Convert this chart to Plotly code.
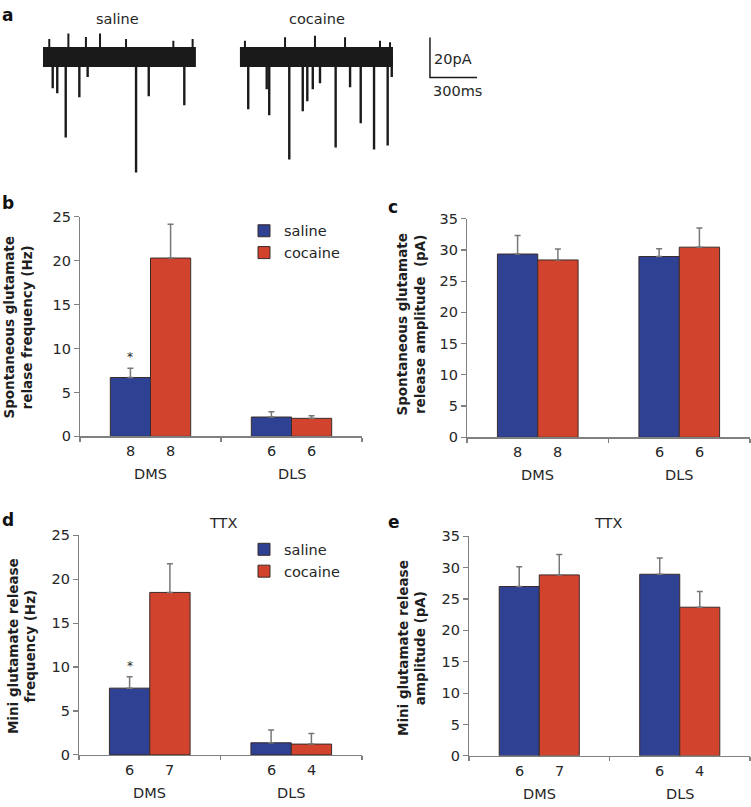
import plotly.graph_objects as go

# ---------------- data ----------------
# panel a: example traces (time in ms, current in pA relative to baseline)
saline_span_ms = [0, 976]
saline_event_ms = [62, 91, 145, 232, 285, 594, 675, 902]
saline_event_pA = [15.5, 18, 40, 20, 10, 57.5, 19.5, 24]
saline_noise_ms = [40, 162, 274, 364, 530, 832, 955]
saline_noise_pA = [8.9, 11.7, 10, 11.7, 8.9, 8.1, 8.9]

cocaine_span_ms = [1257, 2234]
cocaine_event_ms = [1310, 1428, 1444, 1572, 1658, 1687, 1722, 1768, 1868, 1960, 2028, 2113, 2200, 2226]
cocaine_event_pA = [26, 16, 29, 51, 27, 22, 16, 13, 45, 15, 33, 46, 44, 10]
cocaine_noise_ms = [1289, 1545, 1736, 1928, 2151, 2215]
cocaine_noise_pA = [8.1, 9.8, 10.6, 9.8, 8.1, 7.3]

scalebar_ms = 300
scalebar_pA = 20

regions = ["DMS", "DLS"]
groups = ["saline", "cocaine"]

# panel b: spontaneous frequency (Hz)
b_saline = [6.7, 2.2]
b_saline_err = [1.05, 0.6]
b_cocaine = [20.3, 2.05]
b_cocaine_err = [3.85, 0.3]
b_n_saline = [8, 6]
b_n_cocaine = [8, 6]

# panel c: spontaneous amplitude (pA)
c_saline = [29.35, 28.95]
c_saline_err = [2.95, 1.25]
c_cocaine = [28.4, 30.45]
c_cocaine_err = [1.75, 3.05]
c_n_saline = [8, 6]
c_n_cocaine = [8, 6]

# panel d: mini frequency (Hz), TTX
d_saline = [7.6, 1.38]
d_saline_err = [1.3, 1.46]
d_cocaine = [18.5, 1.23]
d_cocaine_err = [3.25, 1.2]
d_n_saline = [6, 6]
d_n_cocaine = [7, 4]

# panel e: mini amplitude (pA), TTX
e_saline = [27.0, 28.95]
e_saline_err = [3.15, 2.6]
e_cocaine = [28.85, 23.7]
e_cocaine_err = [3.25, 2.5]
e_n_saline = [6, 6]
e_n_cocaine = [7, 4]

# ---------------- style ----------------
W, H = 751, 807
FONT = "DejaVu Sans"
BLUE = "#2E4192"
RED = "#D2432D"
EDGE = "#3a2c2c"
AXC = "#808080"
TXT = "#262626"
TRACE = "#1a1a1a"
TICK_SIZE = 14.5
BARGAP = 0.43


def px(x):
    return x / W


def py(y):
    return 1 - y / H


fig = go.Figure()
annotations = []

# ---------------- panel a ----------------
def spikes(ts, amps, sign):
    xs, ys = [], []
    for t, a in zip(ts, amps):
        xs += [t, t, None]
        ys += [0, sign * a, None]
    return xs, ys


for span, ev_t, ev_a, nz_t, nz_a in [
    (saline_span_ms, saline_event_ms, saline_event_pA, saline_noise_ms, saline_noise_pA),
    (cocaine_span_ms, cocaine_event_ms, cocaine_event_pA, cocaine_noise_ms, cocaine_noise_pA),
]:
    fig.add_trace(go.Scatter(x=span, y=[0, 0], mode="lines", xaxis="x", yaxis="y",
                             line=dict(color=TRACE, width=20), showlegend=False,
                             hoverinfo="skip"))
    xs, ys = spikes(ev_t, ev_a, -1)
    fig.add_trace(go.Scatter(x=xs, y=ys, mode="lines", xaxis="x", yaxis="y",
                             line=dict(color=TRACE, width=2.4), showlegend=False,
                             hoverinfo="skip"))
    xs, ys = spikes(nz_t, nz_a, 1)
    fig.add_trace(go.Scatter(x=xs, y=ys, mode="lines", xaxis="x", yaxis="y",
                             line=dict(color=TRACE, width=2), showlegend=False,
                             hoverinfo="skip"))

# scale bar
sb_x0 = 2470
sb_y0 = -10.24
fig.add_trace(go.Scatter(x=[sb_x0, sb_x0, sb_x0 + scalebar_ms],
                         y=[sb_y0 + scalebar_pA, sb_y0, sb_y0],
                         mode="lines", xaxis="x", yaxis="y",
                         line=dict(color=TRACE, width=1.5), showlegend=False,
                         hoverinfo="skip"))

layout_axes = {}
layout_axes["xaxis"] = dict(domain=[px(43), px(477)], range=[0, (477 - 43) * 300 / 47],
                            visible=False, anchor="y", fixedrange=True)
layout_axes["yaxis"] = dict(domain=[py(175), py(20)], range=[-(175 - 50) / 2.05, (50 - 20) / 2.05],
                            visible=False, anchor="x", fixedrange=True)

for txt, x, y in [("saline", 117, 11), ("cocaine", 317, 11)]:
    annotations.append(dict(text=txt, x=px(x), y=py(y), xref="paper", yref="paper",
                            xanchor="center", yanchor="middle", showarrow=False,
                            font=dict(family=FONT, size=14.5, color=TXT)))
for txt, x, y in [("20pA", 432, 52), ("300ms", 431, 85)]:
    annotations.append(dict(text=txt, x=px(x), y=py(y), xref="paper", yref="paper",
                            xanchor="left", yanchor="middle", showarrow=False,
                            font=dict(family=FONT, size=14.5, color=TXT)))

# ---------------- bar panels ----------------
panels = [
    dict(key="2", xdom=(80, 362), ydom=(437, 213), ymax=25,
         sal=b_saline, sal_e=b_saline_err, coc=b_cocaine, coc_e=b_cocaine_err,
         n_s=b_n_saline, n_c=b_n_cocaine, legend="legend", star=True,
         title=["Spontaneous glutamate", "relase frequency (Hz)"], tpos=(18, 326), ttl=None),
    dict(key="3", xdom=(467, 750), ydom=(438, 215), ymax=35,
         sal=c_saline, sal_e=c_saline_err, coc=c_cocaine, coc_e=c_cocaine_err,
         n_s=c_n_saline, n_c=c_n_cocaine, legend=None, star=False,
         title=["Spontaneous glutamate", "release amplitude\u00a0 (pA)"], tpos=(411, 323), ttl=None),
    dict(key="4", xdom=(79, 362), ydom=(762, 538), ymax=25,
         sal=d_saline, sal_e=d_saline_err, coc=d_cocaine, coc_e=d_cocaine_err,
         n_s=d_n_saline, n_c=d_n_cocaine, legend="legend2", star=True,
         title=["Mini glutamate release", "frequency (Hz)"], tpos=(22, 651), ttl=(223, 525)),
    dict(key="5", xdom=(469, 750), ydom=(763, 539), ymax=35,
         sal=e_saline, sal_e=e_saline_err, coc=e_cocaine, coc_e=e_cocaine_err,
         n_s=e_n_saline, n_c=e_n_cocaine, legend=None, star=False,
         title=["Mini glutamate release", "amplitude (pA)"], tpos=(412, 653), ttl=(608, 525)),
]

offset = (1 - BARGAP) / 4
xpos = list(range(len(regions)))

for p in panels:
    k = p["key"]
    xa, ya = "x" + k, "y" + k
    for name, vals, errs, col in [("saline", p["sal"], p["sal_e"], BLUE),
                                  ("cocaine", p["coc"], p["coc_e"], RED)]:
        tr = go.Bar(x=xpos, y=vals, name=name, xaxis=xa, yaxis=ya,
                    marker=dict(color=col, line=dict(color=EDGE, width=1)),
                    error_y=dict(type="data", array=errs, arrayminus=[0] * len(errs),
                                 symmetric=False, color="#777777", thickness=1.5, width=3),
                    offsetgroup=name, hoverinfo="skip")
        if p["legend"]:
            tr.update(legend=p["legend"], showlegend=True)
        else:
            tr.update(showlegend=False)
        fig.add_trace(tr)

    layout_axes["xaxis" + k] = dict(
        domain=[px(p["xdom"][0]), px(p["xdom"][1])], range=[-0.5, len(regions) - 0.5],
        anchor=ya, showline=True, linecolor=AXC, linewidth=1.2,
        tickmode="array", tickvals=[-0.5, 0.5, 1.5], ticktext=["", "", ""],
        ticks="outside", ticklen=4, tickcolor=AXC, tickwidth=1.2,
        showgrid=False, zeroline=False, fixedrange=True)
    layout_axes["yaxis" + k] = dict(
        domain=[py(p["ydom"][0]), py(p["ydom"][1])], range=[0, p["ymax"]],
        anchor=xa, showline=True, linecolor=AXC, linewidth=1.2,
        tickmode="linear", tick0=0, dtick=5, ticks="outside", ticklen=5,
        tickcolor=AXC, tickwidth=1.2,
        tickfont=dict(family=FONT, size=TICK_SIZE, color=TXT),
        showgrid=False, zeroline=False, fixedrange=True)

    # n labels and region labels
    for i, reg in enumerate(regions):
        for nval, sgn in [(p["n_s"][i], -1), (p["n_c"][i], 1)]:
            annotations.append(dict(text=str(nval), x=i + sgn * offset, y=0,
                                    xref=xa, yref=ya + " domain", yshift=-15,
                                    xanchor="center", yanchor="middle", showarrow=False,
                                    font=dict(family=FONT, size=TICK_SIZE, color=TXT)))
        annotations.append(dict(text=reg, x=i, y=0, xref=xa, yref=ya + " domain", yshift=-38,
                                xanchor="center", yanchor="middle", showarrow=False,
                                font=dict(family=FONT, size=TICK_SIZE, color=TXT)))
    if p["star"]:
        annotations.append(dict(text="*", x=0 - offset, y=p["sal"][0] + p["sal_e"][0],
                                xref=xa, yref=ya, yshift=11, xanchor="center",
                                yanchor="middle", showarrow=False,
                                font=dict(family=FONT, size=12, color=TXT)))
    # y axis title
    annotations.append(dict(text="<br>".join(p["title"]), x=px(p["tpos"][0]), y=py(p["tpos"][1]),
                            xref="paper", yref="paper", xanchor="center", yanchor="middle",
                            textangle=-90, showarrow=False,
                            font=dict(family=FONT, size=13.5, color="#1e1e1e", weight="bold")))
    if p["ttl"]:
        annotations.append(dict(text="TTX", x=px(p["ttl"][0]), y=py(p["ttl"][1]),
                                xref="paper", yref="paper", xanchor="center", yanchor="middle",
                                showarrow=False,
                                font=dict(family=FONT, size=14.5, color=TXT)))

# panel letters
for letter, x, y in [("a", 0, 7), ("b", 0, 199), ("c", 386, 203), ("d", 0, 522), ("e", 386, 524)]:
    annotations.append(dict(text=letter, x=px(x), y=py(y), xref="paper", yref="paper",
                            xanchor="left", yanchor="middle", showarrow=False,
                            font=dict(family=FONT, size=17, color="#111111", weight="bold")))

legend_style = dict(xanchor="left", yanchor="top", bgcolor="rgba(0,0,0,0)",
                    font=dict(family=FONT, size=14.5, color=TXT), tracegroupgap=0,
                    itemwidth=30, borderwidth=0)

fig.update_layout(
    width=W, height=H,
    margin=dict(l=0, r=0, t=0, b=0),
    paper_bgcolor="white", plot_bgcolor="white",
    barmode="group", bargap=BARGAP, bargroupgap=0,
    font=dict(family=FONT, color=TXT),
    legend=dict(x=px(244), y=py(211), **legend_style),
    legend2=dict(x=px(244), y=py(536), **legend_style),
    annotations=annotations,
    hovermode=False,
    **layout_axes,
)

fig.write_html("out.html",
               config={"displayModeBar": False, "staticPlot": True},
               post_script="document.body.style.margin='0px';document.body.style.overflow='hidden';")
